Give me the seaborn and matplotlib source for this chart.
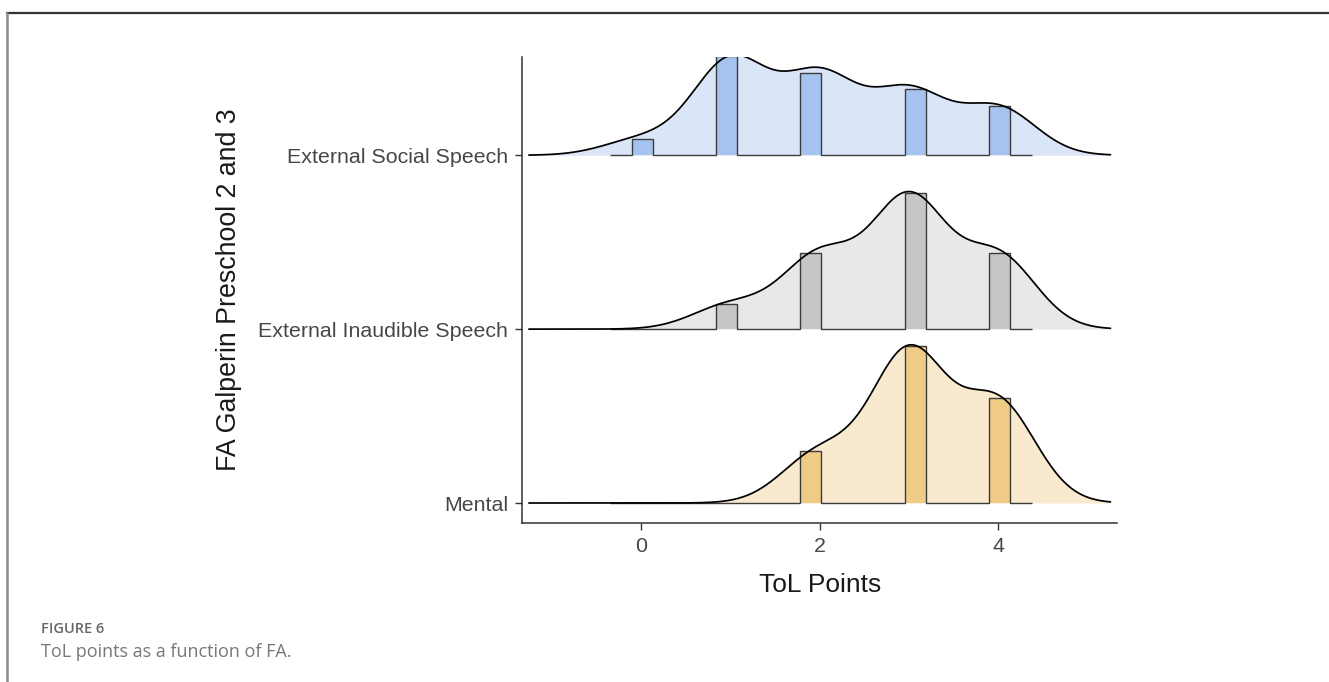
import numpy as np
import pandas as pd
import matplotlib
matplotlib.use("Agg")
import matplotlib.pyplot as plt
from matplotlib.lines import Line2D
import seaborn as sns

# ---------------- data ----------------
categories = ["Mental", "External Inaudible Speech", "External Social Speech"]
tol_scores = [0, 1, 2, 3, 4]
counts_mental = [0, 0, 2, 6, 4]
counts_inaudible = [0, 3, 9, 16, 9]
counts_social = [1, 6, 5, 4, 3]
x_ticks = [0, 2, 4]
x_label = "ToL Points"
y_label = "FA Galperin Preschool 2 and 3"
figure_tag = "FIGURE 6"
caption = "ToL points as a function of FA."

# ---------------- parameters / style ----------------
fill_colors = ["#f8e9cf", "#e8e8e8", "#dae5f7"]
bar_colors = ["#efcb86", "#c6c6c6", "#a5c3ef"]
bandwidth = 0.42
n_bins = 20
bin_range = (-0.345, 4.375)
ridge_scale = 0.91

sns.set_theme(style="ticks")
plt.rcParams["font.family"] = ["Liberation Sans", "DejaVu Sans"]

counts = {"Mental": counts_mental,
          "External Inaudible Speech": counts_inaudible,
          "External Social Speech": counts_social}
rows = [(c, s) for c in categories for s, k in zip(tol_scores, counts[c]) for _ in range(k)]
df = pd.DataFrame(rows, columns=["FA", "ToL"])

W, H = 1329, 682
fig = plt.figure(figsize=(W / 100, H / 100), dpi=100)
ax = fig.add_axes([522 / W, 1 - 523 / H, (1117 - 522) / W, (523 - 57) / H])

all_x = df["ToL"].to_numpy(float)
grid = np.linspace(all_x.min() - 3 * bandwidth, all_x.max() + 3 * bandwidth, 512)
edges = np.linspace(bin_range[0], bin_range[1], n_bins + 1)

dens, hist = {}, {}
for c in categories:
    x = df.loc[df["FA"] == c, "ToL"].to_numpy(float)
    z = (grid[:, None] - x[None, :]) / bandwidth
    dens[c] = np.exp(-0.5 * z ** 2).sum(axis=1) / (len(x) * bandwidth * np.sqrt(2 * np.pi))
    h, _ = np.histogram(x, bins=edges)
    hist[c] = h / len(x)

gmax = max(max(d.max() for d in dens.values()), max(h.max() for h in hist.values()))
k = ridge_scale / gmax

for i, c in enumerate(categories):
    base = i + 1
    zb = 10 - i * 3
    top = base + dens[c] * k
    ax.fill_between(grid, base, top, color=fill_colors[i], lw=0, zorder=zb)
    ax.stairs(base + hist[c] * k, edges, baseline=base, fill=True,
              color=bar_colors[i], lw=0, zorder=zb + 0.5)
    ax.stairs(base + hist[c] * k, edges, baseline=base, fill=False,
              color="#3c3c3c", lw=1.0, zorder=zb + 0.6)
    sns.lineplot(x=grid, y=top, ax=ax, color="black", linewidth=1.25,
                 estimator=None, sort=False, zorder=zb + 0.8)

ax.set_xlim(-1.337, 5.333)
ax.set_ylim(0.885, 3.565)
ax.set_xticks(x_ticks)
ax.set_xticklabels([str(t) for t in x_ticks])
ax.set_yticks([1, 2, 3])
ax.set_yticklabels(categories)
ax.set_xlabel("")
ax.set_ylabel("")
sns.despine(ax=ax)
for s in ["left", "bottom"]:
    ax.spines[s].set_linewidth(1.1)
    ax.spines[s].set_color("#333333")
ax.tick_params(axis="both", length=5, width=1.0, color="#333333",
               labelsize=15.4, labelcolor="#474747")
ax.tick_params(axis="y", pad=5)
ax.tick_params(axis="x", pad=5)

fig.text(820 / W, 1 - 585 / H, x_label, ha="center", va="center",
         fontsize=19, color="#1a1a1a")
fig.text(229 / W, 1 - 290 / H, y_label, ha="center", va="center",
         rotation=90, fontsize=19.3, color="#1a1a1a")

# page frame
fig.add_artist(Line2D([7 / W, 1.0], [1 - 13 / H, 1 - 13 / H],
                      transform=fig.transFigure, color="#333333", lw=1.6))
fig.add_artist(Line2D([7 / W, 7 / W], [0, 1 - 13 / H],
                      transform=fig.transFigure, color="#8a8a8a", lw=1.8))

fig.text(41 / W, 1 - 629 / H, figure_tag, ha="left", va="center",
         fontsize=10.5, fontweight="semibold", color="#666666",
         family=["Open Sans", "DejaVu Sans"])
fig.text(41 / W, 1 - 652 / H, caption, ha="left", va="center",
         fontsize=13, color="#777777", family=["Open Sans", "DejaVu Sans"])

fig.savefig("out.png", dpi=100)
